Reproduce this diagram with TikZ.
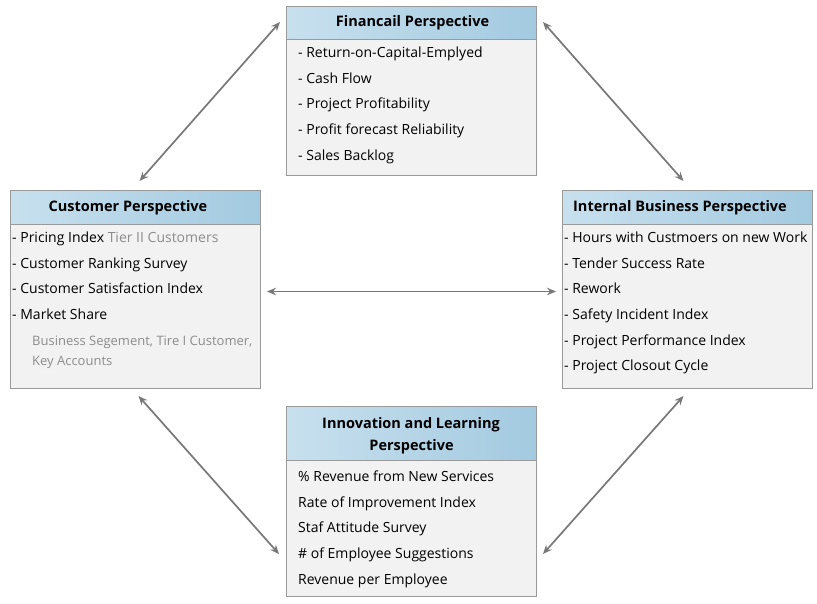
\documentclass[tikz,border=0pt]{standalone}
\usepackage{fontspec}
\setmainfont{Open Sans}
\usetikzlibrary{arrows.meta,calc}
\definecolor{boxfill}{HTML}{F2F2F2}
\definecolor{boxline}{HTML}{9A9A9A}
\definecolor{headl}{HTML}{C8E0EE}
\definecolor{headr}{HTML}{A3CAE0}
\definecolor{arrowc}{HTML}{787878}
\definecolor{note}{HTML}{8C8C8C}
\begin{document}
\begin{tikzpicture}[x=1pt,y=-1pt,
  box/.style={draw=boxline,line width=1pt,fill=boxfill,minimum width=250pt,anchor=north west,inner sep=0pt},
  head/.style={draw=boxline,line width=1pt,left color=headl,right color=headr,minimum width=250pt,anchor=north west,inner sep=0pt},
  htext/.style={font=\fontsize{14.5}{16}\selectfont\bfseries,anchor=base,inner sep=0pt,text=black},
  item/.style={font=\fontsize{14}{16}\selectfont,anchor=base west,inner sep=0pt,text=black},
  noteitem/.style={font=\fontsize{13}{15}\selectfont,anchor=base west,inner sep=0pt,text=note},
  link/.style={draw=arrowc,line width=1.7pt,{Stealth[length=9pt,width=7.5pt]}-{Stealth[length=9pt,width=7.5pt]}}
]
\useasboundingbox (0,0) rectangle (817,604);

% Financial
\node[box,minimum height=169pt] (fin) at (286,6) {};
\node[head,minimum height=33pt] (finh) at (286,6) {};
\node[htext] (fint) at (412.5,27) {Financail Perspective};
\node[item] (f1) at (298,58) {- Return-on-Capital-Emplyed};
\node[item] (f2) at (298,83.5) {- Cash Flow};
\node[item] (f3) at (298,109) {- Project Profitability};
\node[item] (f4) at (298,135) {- Profit forecast Reliability};
\node[item] (f5) at (298,160.5) {- Sales Backlog};

% Customer
\node[box,minimum height=198pt] (cust) at (10,190) {};
\node[head,minimum height=34pt] (custh) at (10,190) {};
\node[htext] (custt) at (128,212) {Customer Perspective};
\node[item] (c1) at (12,242.5) {- Pricing Index \textcolor{note}{Tier II Customers}};
\node[item] (c2) at (12,268.5) {- Customer Ranking Survey};
\node[item] (c3) at (12,294) {- Customer Satisfaction Index};
\node[item] (c4) at (12,319.5) {- Market Share};
\node[noteitem] (c5) at (32,345) {Business Segement, Tire I Customer,};
\node[noteitem] (c6) at (32,365) {Key Accounts};

% Internal
\node[box,minimum height=198pt] (int) at (562,190) {};
\node[head,minimum height=34pt] (inth) at (562,190) {};
\node[htext] (intt) at (680,212) {Internal Business Perspective};
\node[item] (i1) at (564,242.5) {- Hours with Custmoers on new Work};
\node[item] (i2) at (564,268.5) {- Tender Success Rate};
\node[item] (i3) at (564,294) {- Rework};
\node[item] (i4) at (564,319.5) {- Safety Incident Index};
\node[item] (i5) at (564,345) {- Project Performance Index};
\node[item] (i6) at (564,370.5) {- Project Closout Cycle};

% Innovation
\node[box,minimum height=190pt] (inn) at (286,406) {};
\node[head,minimum height=54pt] (innh) at (286,406) {};
\node[htext] (innt1) at (411,428.5) {Innovation and Learning};
\node[htext] (innt2) at (411.5,450.5) {Perspective};
\node[item] (n1) at (298,481) {\% Revenue from New Services};
\node[item] (n2) at (298,507) {Rate of Improvement Index};
\node[item] (n3) at (298,532.5) {Staf Attitude Survey};
\node[item] (n4) at (298,558) {\# of Employee Suggestions};
\node[item] (n5) at (298,584) {Revenue per Employee};

% Connectors
\draw[link] ($(fin.north west)+(-6,16)$) -- ($(cust.north)+(4,-9)$);
\draw[link] ($(fin.north east)+(6,16)$) -- ($(int.north)+(-4,-9)$);
\draw[link] ($(cust.south)+(3,7)$) -- ($(inn.north west)+(-7,148)$);
\draw[link] ($(int.south)+(-4,7)$) -- ($(inn.north east)+(6,148)$);
\draw[link] ($(cust.east)+(6,2)$) -- ($(int.west)+(-6,2)$);
\end{tikzpicture}
\end{document}
